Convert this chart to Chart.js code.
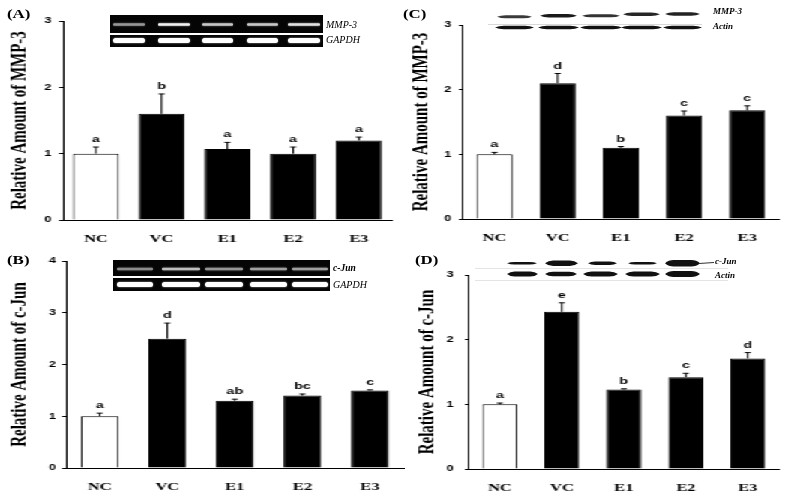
<!DOCTYPE html>
<html>
<head>
<meta charset="utf-8">
<script src="https://cdn.jsdelivr.net/npm/chart.js@4.4.1/dist/chart.umd.min.js"></script>
<style>
  html, body { margin: 0; padding: 0; background: #fff; }
  body { width: 787px; height: 493px; overflow: hidden; position: relative; }
  /* the original figure is stretched horizontally, so the charts are drawn narrow and scaled */
  #stretch { position: absolute; left: 0; top: 0; width: 525px; height: 493px; transform: scaleX(1.5); transform-origin: 0 0; }
  #stretch canvas { position: absolute; }
  #overlay { position: absolute; left: 0; top: 0; pointer-events: none; }
</style>
</head>
<body>
<div id="stretch">
  <canvas id="chartA" width="270" height="245" style="left:0;top:0;width:270px;height:245px"></canvas>
  <canvas id="chartB" width="270" height="248" style="left:0;top:245px;width:270px;height:248px"></canvas>
  <canvas id="chartC" width="263" height="245" style="left:262px;top:0;width:263px;height:245px"></canvas>
  <canvas id="chartD" width="263" height="248" style="left:262px;top:245px;width:263px;height:248px"></canvas>
</div>
<canvas id="overlay" width="787" height="493"></canvas>
<script>
const categories = ['NC', 'VC', 'E1', 'E2', 'E3']

// (A) MMP-3, RT-PCR
const mmp3PcrValues = [1.0, 1.6, 1.07, 1.0, 1.2]
const mmp3PcrErrors = [0.1, 0.3, 0.1, 0.1, 0.05]
const mmp3PcrLetters = ['a', 'b', 'a', 'a', 'a']

// (B) c-Jun, RT-PCR
const cjunPcrValues = [1.0, 2.5, 1.3, 1.4, 1.5]
const cjunPcrErrors = [0.06, 0.3, 0.03, 0.03, 0.01]
const cjunPcrLetters = ['a', 'd', 'ab', 'bc', 'c']

// (C) MMP-3, western blot
const mmp3WbValues = [1.0, 2.1, 1.1, 1.6, 1.68]
const mmp3WbErrors = [0.03, 0.15, 0.02, 0.07, 0.07]
const mmp3WbLetters = ['a', 'd', 'b', 'c', 'c']

// (D) c-Jun, western blot
const cjunWbValues = [1.0, 2.43, 1.23, 1.42, 1.71]
const cjunWbErrors = [0.02, 0.14, 0.01, 0.06, 0.09]
const cjunWbLetters = ['a', 'e', 'b', 'c', 'd']

const barColors = ['#ffffff', '#000000', '#000000', '#000000', '#000000']

const errorBarPlugin = {
  id: 'errorBars',
  afterDatasetsDraw(chart, args, opts) {
    const ctx = chart.ctx
    const yScale = chart.scales.y
    const values = chart.data.datasets[0].data
    ctx.save()
    ctx.strokeStyle = '#000'
    ctx.fillStyle = '#000'
    ctx.lineWidth = 1
    ctx.font = 'bold 9.5px "Liberation Sans"'
    ctx.textAlign = 'center'
    ctx.textBaseline = 'alphabetic'
    chart.getDatasetMeta(0).data.forEach((bar, i) => {
      const top = yScale.getPixelForValue(values[i] + opts.errors[i])
      ctx.beginPath()
      ctx.moveTo(bar.x, bar.y)
      ctx.lineTo(bar.x, top)
      ctx.moveTo(bar.x - 2, top)
      ctx.lineTo(bar.x + 2, top)
      ctx.stroke()
      ctx.fillText(opts.letters[i], bar.x, top - 5)
    })
    ctx.restore()
  }
}

function makeChart(id, cfg) {
  return new Chart(document.getElementById(id), {
    type: 'bar',
    data: {
      labels: categories,
      datasets: [{
        data: cfg.values,
        backgroundColor: barColors,
        borderColor: '#000',
        borderWidth: 1,
        barPercentage: cfg.barPct,
        categoryPercentage: 1
      }]
    },
    options: {
      responsive: false,
      animation: false,
      devicePixelRatio: 1,
      layout: { padding: cfg.padding },
      plugins: {
        legend: { display: false },
        tooltip: { enabled: false },
        errorBars: { errors: cfg.errors, letters: cfg.letters }
      },
      scales: {
        x: {
          grid: { display: false },
          border: { color: '#000', width: 1 },
          ticks: { color: '#000', padding: 5, font: { family: '"Liberation Serif"', weight: 'bold', size: 11 } },
          afterFit: s => { s.height = cfg.xHeight }
        },
        y: {
          min: 0,
          max: cfg.yMax,
          ticks: { stepSize: 1, color: '#000', padding: cfg.tickPad, font: { family: '"Liberation Sans"', weight: 'bold', size: 8.5 } },
          grid: { drawOnChartArea: false, color: '#000', tickLength: 2.7 },
          border: { color: '#000', width: 1 },
          title: {
            display: true,
            text: cfg.title,
            color: '#000',
            font: { family: '"Liberation Serif"', weight: 'bold', size: 15 },
            padding: { top: cfg.titlePad, bottom: 0 }
          },
          afterFit: s => { s.width = cfg.yWidth }
        }
      }
    },
    plugins: [errorBarPlugin]
  })
}

makeChart('chartA', {
  values: mmp3PcrValues, errors: mmp3PcrErrors, letters: mmp3PcrLetters, yMax: 3,
  title: 'Relative Amount of MMP-3', barPct: 0.7,
  padding: { left: 0, right: 8.7, top: 21, bottom: 0 }, yWidth: 42, xHeight: 25, titlePad: 4.3, tickPad: 5
})
makeChart('chartB', {
  values: cjunPcrValues, errors: cjunPcrErrors, letters: cjunPcrLetters, yMax: 4,
  title: 'Relative Amount of c-Jun', barPct: 0.56,
  padding: { left: 0, right: 0.7, top: 16, bottom: 0 }, yWidth: 44, xHeight: 25, titlePad: 4.3, tickPad: 4
})
makeChart('chartC', {
  values: mmp3WbValues, errors: mmp3WbErrors, letters: mmp3WbLetters, yMax: 3,
  title: 'Relative Amount of MMP-3', barPct: 0.57,
  padding: { left: 0, right: 5.7, top: 25, bottom: 0 }, yWidth: 46.7, xHeight: 26, titlePad: 10.3, tickPad: 5
})
makeChart('chartD', {
  values: cjunWbValues, errors: cjunWbErrors, letters: cjunWbLetters, yMax: 3,
  title: 'Relative Amount of c-Jun', barPct: 0.565,
  padding: { left: 0, right: 5.7, top: 30, bottom: 0 }, yWidth: 50.7, xHeight: 24, titlePad: 13.7, tickPad: 7.5
})

// gel / blot pictures and panel letters, drawn unstretched on top
const ov = document.getElementById('overlay').getContext('2d')

function gelBand(x1, x2, y, h, grey) {
  ov.save()
  ov.strokeStyle = `rgb(${grey},${grey},${grey})`
  ov.shadowColor = `rgba(${grey},${grey},${grey},0.7)`
  ov.shadowBlur = 2
  ov.lineWidth = h
  ov.lineCap = 'round'
  ov.beginPath()
  ov.moveTo(x1 + h / 2, y)
  ov.lineTo(x2 - h / 2, y)
  ov.stroke()
  ov.restore()
}

function blotBand(x1, x2, y, h, shade) {
  const t = Math.min(9, (x2 - x1) / 4)
  ov.save()
  ov.filter = 'blur(0.6px)'
  ov.fillStyle = shade
  ov.beginPath()
  ov.moveTo(x1, y)
  ov.quadraticCurveTo(x1 + t * 0.4, y - h / 2, x1 + t, y - h / 2)
  ov.lineTo(x2 - t, y - h / 2)
  ov.quadraticCurveTo(x2 - t * 0.4, y - h / 2, x2, y)
  ov.quadraticCurveTo(x2 - t * 0.4, y + h / 2, x2 - t, y + h / 2)
  ov.lineTo(x1 + t, y + h / 2)
  ov.quadraticCurveTo(x1 + t * 0.4, y + h / 2, x1, y)
  ov.fill()
  ov.restore()
}

function label(text, x, y, font) {
  ov.font = font
  ov.fillStyle = '#000'
  ov.textAlign = 'left'
  ov.textBaseline = 'middle'
  ov.fillText(text, x, y)
}

// (A) gel
const lanesA = [[113, 145], [158, 190], [202, 233], [247, 278], [288, 320]]
const mmp3Grey = [150, 240, 200, 200, 225]
ov.fillStyle = '#050505'
ov.fillRect(110, 15, 213, 18)
ov.fillRect(110, 35, 213, 12)
lanesA.forEach((l, i) => gelBand(l[0], l[1], 24.5, 2.5, mmp3Grey[i]))
lanesA.forEach(l => gelBand(l[0], l[1], 40.5, 5, 255))
label('MMP-3', 326, 25, 'italic 10px "Liberation Serif"')
label('GAPDH', 326, 40, 'italic 10px "Liberation Serif"')

// (B) gel
const lanesB = [[117, 153], [162, 200], [205, 243], [250, 287], [292, 328]]
const cjunGrey = [140, 190, 150, 160, 160]
ov.fillStyle = '#050505'
ov.fillRect(113, 260, 217, 16)
ov.fillRect(113, 278, 217, 13)
lanesB.forEach((l, i) => gelBand(l[0], l[1], 269, 2.5, cjunGrey[i]))
lanesB.forEach(l => gelBand(l[0], l[1], 284.5, 5, 255))
label('c-Jun', 333, 269, 'italic bold 9.5px "Liberation Serif"')
label('GAPDH', 333, 285, 'italic 10px "Liberation Serif"')

// (C) blot
const lanesC = [[497, 532], [540, 577], [582, 620], [623, 660], [665, 700]]
const mmp3BandY = [16.7, 15.7, 15.7, 14.3, 14]
const mmp3BandH = [3, 3.5, 3, 3.5, 3.5]
const mmp3Shade = ['#3a3a3a', '#1a1a1a', '#333', '#262626', '#222']
ov.strokeStyle = '#d8d8d8'
ov.lineWidth = 1
ov.beginPath(); ov.moveTo(488, 24.5); ov.lineTo(702, 24.5); ov.stroke()
lanesC.forEach((l, i) => blotBand(l[0], l[1], mmp3BandY[i], mmp3BandH[i], mmp3Shade[i]))
lanesC.forEach(l => blotBand(l[0] - 2, l[1] + 2, 27.5, 3.5, '#111'))
label('MMP-3', 713, 12, 'italic bold 9px "Liberation Serif"')
label('Actin', 713, 27, 'italic bold 9px "Liberation Serif"')

// (D) blot
const lanesD = [[507, 537], [545, 578], [588, 617], [628, 657], [665, 700]]
const cjunBandH = [2.5, 5.5, 3.5, 2.5, 6.5]
const actinLanesD = [[507, 538], [545, 577], [583, 618], [625, 660], [665, 700]]
const actinBandH = [5, 4.5, 5, 5, 6]
ov.strokeStyle = '#e4e4e4'
ov.beginPath(); ov.moveTo(475, 268.5); ov.lineTo(728, 268.5); ov.moveTo(475, 280.5); ov.lineTo(728, 280.5); ov.stroke()
lanesD.forEach((l, i) => blotBand(l[0], l[1], 263.3, cjunBandH[i], '#111'))
actinLanesD.forEach((l, i) => blotBand(l[0], l[1], 274, actinBandH[i], '#111'))
ov.strokeStyle = '#333'
ov.beginPath(); ov.moveTo(699, 263.5); ov.lineTo(714, 262.5); ov.stroke()
label('c-Jun', 715, 262, 'italic bold 9px "Liberation Serif"')
label('Actin', 715, 276, 'italic bold 9px "Liberation Serif"')

// panel letters (slightly widened like the figure)
function panelLetter(text, x, y) {
  ov.save()
  ov.translate(x, y)
  ov.scale(1.35, 1)
  ov.font = 'bold 12.5px "Liberation Serif"'
  ov.fillStyle = '#000'
  ov.textAlign = 'left'
  ov.textBaseline = 'middle'
  ov.fillText(text, 0, 0)
  ov.restore()
}
panelLetter('(A)', 7, 15)
panelLetter('(B)', 7, 261)
panelLetter('(C)', 403, 15)
panelLetter('(D)', 415, 261)
</script>
</body>
</html>
